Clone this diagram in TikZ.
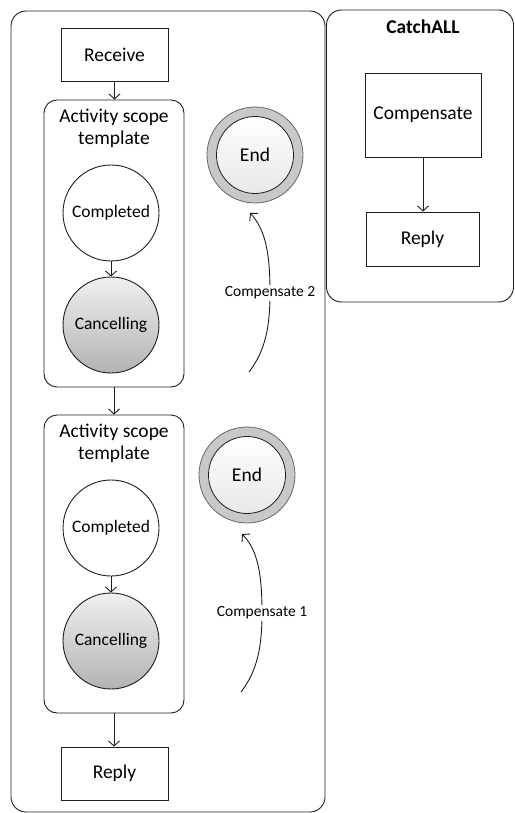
\documentclass[tikz,border=0pt]{standalone}
\usepackage{fontspec}
\setmainfont{Carlito}
\usetikzlibrary{arrows.meta}
\definecolor{linec}{HTML}{1E1E1E}
\definecolor{ringc}{HTML}{C8C8C8}
\begin{document}
\begin{tikzpicture}[x=1pt,y=-1pt,
  every node/.style={inner sep=0pt},
  container/.style={draw=linec, line width=0.9pt, rounded corners=15pt},
  scopebox/.style={draw=linec, line width=0.9pt, rounded corners=13pt},
  taskbox/.style={draw=linec, line width=0.9pt, font=\fontsize{19.5}{22}\selectfont},
  statec/.style={circle, draw=linec, line width=0.9pt, minimum size=96pt, font=\fontsize{17.5}{20}\selectfont},
  endring/.style={circle, draw=gray!80!black, line width=0.8pt, fill=ringc, minimum size=96pt},
  endin/.style={circle, draw=linec, line width=0.8pt, top color=white, bottom color=gray!18, minimum size=77pt, font=\fontsize{19.5}{22}\selectfont},
  flow/.style={draw=linec, line width=0.9pt, -{Straight Barb[length=5pt,width=11pt]}},
  clabel/.style={fill=white, font=\fontsize{15.5}{18}\selectfont, inner sep=1.5pt}
]
\useasboundingbox (0,0) rectangle (514,813);
% containers
\node[container, minimum width=314pt, minimum height=801pt] (main) at (168,411.5) {};
\node[container, minimum width=187pt, minimum height=292pt] (catch) at (420,156) {};
\node[font=\bfseries\fontsize{19.5}{22}\selectfont] (catchlbl) at (423,27) {CatchALL};
% receive
\node[taskbox, minimum width=107pt, minimum height=53pt] (receive) at (114.5,54.5) {Receive};
% scope 1
\node[scopebox, minimum width=140pt, minimum height=287pt] (scope1) at (114,243.5) {};
\node[align=center, font=\fontsize{19.5}{22}\selectfont] (title1) at (114,128.5) {Activity scope\\template};
\node[statec] (comp1) at (111,213) {Completed};
\node[statec, top color=white!94!black, bottom color=gray!60] (canc1) at (111,325) {Cancelling};
% scope 2
\node[scopebox, minimum width=140pt, minimum height=298pt] (scope2) at (114,564) {};
\node[align=center, font=\fontsize{19.5}{22}\selectfont] (title2) at (114,443.5) {Activity scope\\template};
\node[statec] (comp2) at (111,528) {Completed};
\node[statec, top color=white!94!black, bottom color=gray!60] (canc2) at (111,641) {Cancelling};
% reply
\node[taskbox, minimum width=107pt, minimum height=53pt] (reply) at (114.5,773.5) {Reply};
% end states
\node[endring] (end1r) at (255,155) {};
\node[endin] (end1) at (255,155) {End};
\node[endring] (end2r) at (247,475) {};
\node[endin] (end2) at (247,475) {End};
% catch all
\node[taskbox, minimum width=116pt, minimum height=84pt] (comp) at (423,115) {Compensate};
\node[taskbox, minimum width=113pt, minimum height=54pt] (creply) at (422.5,239) {Reply};
% connectors
\draw[flow] (receive.south) -- (receive.south |- scope1.north);
\draw[flow] (comp1) -- (canc1);
\draw[flow] (scope1.south) -- (scope1.south |- scope2.north);
\draw[flow] (comp2) -- (canc2);
\draw[flow] (scope2.south) -- (scope2.south |- reply.north);
\draw[flow] (comp.south) -- (comp.south |- creply.north);
% compensate arrows
\coordinate (s2) at (249,372);
\coordinate (e2) at (250,213);
\coordinate (m2) at (270,293);
\draw[flow] (s2) .. controls (266,350) and (270,325) .. (m2) .. controls (270,255) and (266,230) .. (e2);
\node[clabel] (lab2) at (m2) {Compensate 2};
\coordinate (s1) at (241,692);
\coordinate (e1) at (242,534);
\coordinate (m1) at (262,613);
\draw[flow] (s1) .. controls (258,670) and (262,645) .. (m1) .. controls (262,575) and (258,550) .. (e1);
\node[clabel] (lab1) at (m1) {Compensate 1};
\end{tikzpicture}
\end{document}
